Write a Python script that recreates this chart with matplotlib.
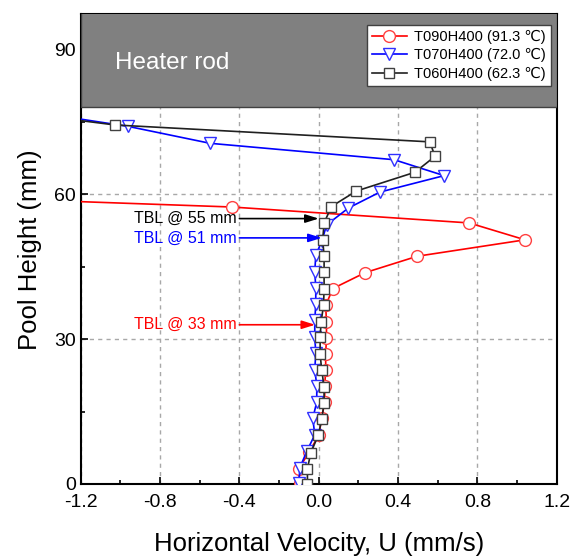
import numpy as np
import matplotlib
matplotlib.use("Agg")
import matplotlib.pyplot as plt
from matplotlib.patches import Rectangle
from matplotlib.ticker import MultipleLocator

plt.rcParams['font.family'] = ['Liberation Sans', 'DejaVu Sans']

# T090H400 (91.3 C)
h_090 = [0.15, 3.2, 6.7, 10.1, 13.6, 17.0, 20.3, 23.7, 27.0, 30.3, 33.6, 37.0,
         40.5, 43.8, 47.2, 50.6, 54.1, 57.4, 60.8]
u_090 = [-0.097, -0.10, -0.047, 0.0, 0.015, 0.03, 0.03, 0.035, 0.035, 0.039, 0.039, 0.035,
         0.071, 0.234, 0.497, 1.04, 0.758, -0.439, -2.78]

# T070H400 (72.0 C)
h_070 = [0.2, 3.4, 6.8, 10.2, 13.6, 17.0, 20.4, 23.7, 27.1, 30.5, 33.9, 37.3,
         40.7, 44.0, 47.4, 50.3, 53.7, 57.2, 60.5, 63.9, 67.2, 70.6, 74.1, 77.5]
u_070 = [-0.10, -0.095, -0.06, -0.02, -0.03, -0.01, -0.01, -0.02, -0.015, -0.02, -0.02, -0.015,
         -0.015, -0.02, -0.015, 0.015, 0.04, 0.15, 0.309, 0.632, 0.38, -0.548, -0.96, -1.5]

# T060H400 (62.3 C)
h_060 = [0.1, 3.2, 6.5, 10.1, 13.4, 16.8, 20.1, 23.6, 26.9, 30.4, 33.6, 37.0,
         40.4, 43.9, 47.2, 50.6, 54.1, 57.5, 60.7, 64.6, 67.9, 70.9, 74.4, 77.7]
u_060 = [-0.057, -0.057, -0.04, -0.002, 0.015, 0.027, 0.027, 0.015, 0.007, 0.007, 0.012, 0.024,
         0.027, 0.027, 0.027, 0.02, 0.027, 0.064, 0.189, 0.485, 0.586, 0.56, -1.027, -1.66]

labels = ['T090H400 (91.3 \u2103)', 'T070H400 (72.0 \u2103)', 'T060H400 (62.3 \u2103)']

# TBL annotations: text, height, arrow tip x, color
tbl_text = ['TBL @ 55 mm', 'TBL @ 51 mm', 'TBL @ 33 mm']
tbl_h = [55.0, 51.0, 33.0]
tbl_tip = [0.0, 0.015, -0.018]
tbl_col = ['black', 'blue', 'red']

fig = plt.figure(figsize=(5.74, 5.56), dpi=100)
ax = fig.add_axes([0.1406, 0.1295, 0.8294, 0.8445])

ax.plot(u_090, h_090, '-o', color='#ff0000', lw=1.2, ms=8.5, mfc='white',
        mec='#ff4040', mew=1.0, label=labels[0], zorder=3)
ax.plot(u_070, h_070, '-v', color='#0000ff', lw=1.2, ms=9, mfc='white',
        mec='#3030ff', mew=1.0, label=labels[1], zorder=4)
ax.plot(u_060, h_060, '-s', color='#202020', lw=1.2, ms=7, mfc='white',
        mec='#404040', mew=1.0, label=labels[2], zorder=5)

ax.set_xlim(-1.2, 1.2)
ax.set_ylim(0, 97.3)

# heater rod band
ax.add_patch(Rectangle((-1.2, 78.2), 2.4, 30, facecolor='#808080',
                       edgecolor='#404040', lw=1.0, zorder=6))
ax.text(-1.027, 87.3, 'Heater rod', color='white', fontsize=17.5,
        va='center', ha='left', zorder=7)

for txt, h, tip, c in zip(tbl_text, tbl_h, tbl_tip, tbl_col):
    ax.annotate('', xy=(tip, h), xytext=(-0.4, h),
                arrowprops=dict(arrowstyle='-|>,head_length=0.8,head_width=0.25',
                                color=c, lw=1.2, shrinkA=0, shrinkB=0), zorder=8)
    ax.text(-0.415, h, txt, color=c, fontsize=11.5, va='center', ha='right', zorder=8)

ax.xaxis.set_minor_locator(MultipleLocator(0.2))
ax.yaxis.set_major_locator(MultipleLocator(30))
ax.yaxis.set_minor_locator(MultipleLocator(15))
ax.set_xticks(np.arange(-1.2, 1.21, 0.4))
ax.set_xticklabels(['%.1f' % v for v in np.arange(-1.2, 1.21, 0.4)])
ax.tick_params(which='both', direction='in', labelsize=14, width=1.2)
ax.tick_params(which='major', length=5)
ax.tick_params(which='minor', length=3)
ax.tick_params(axis='x', pad=7)
ax.grid(True, which='major', ls=(0, (3, 3)), color='#a8a8a8', lw=1.0, zorder=0)

for s in ax.spines.values():
    s.set_linewidth(1.5)

ax.set_xlabel('Horizontal Velocity, U (mm/s)', fontsize=18.5, labelpad=15)
ax.set_ylabel('Pool Height (mm)', fontsize=18.5, labelpad=9)

leg = ax.legend(loc='upper right', fontsize=10.5, frameon=True, fancybox=False,
                edgecolor='#404040', framealpha=1, borderpad=0.35, borderaxespad=0,
                handlelength=2.4, labelspacing=0.3, handletextpad=0.5,
                bbox_to_anchor=(0.988, 0.978))
leg.get_frame().set_linewidth(1.0)
leg.set_zorder(10)

fig.savefig('out.png', dpi=100)
